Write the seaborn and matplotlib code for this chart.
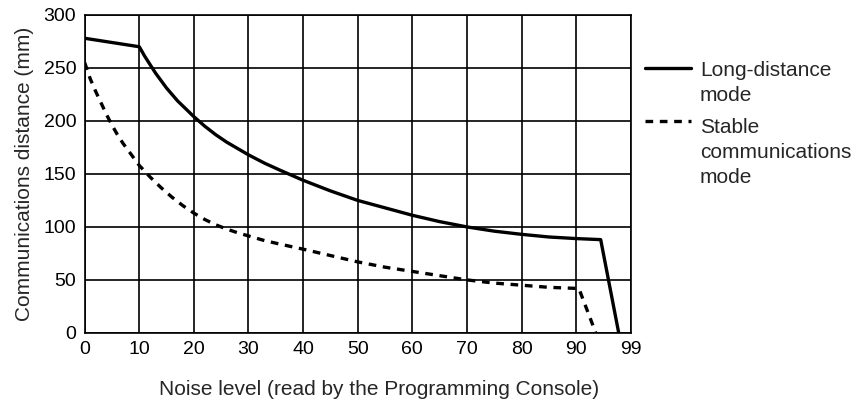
import matplotlib
matplotlib.use("Agg")
import matplotlib.pyplot as plt
import seaborn as sns
import pandas as pd
from matplotlib.lines import Line2D

# curvas
noise_long = [0, 10, 11, 12, 13, 14, 15, 16, 17, 18, 19, 20, 22, 24, 26, 28, 30, 33, 36, 40,
              45, 50, 55, 60, 65, 70, 75, 80, 85, 90, 94.5, 97.8]
dist_long = [278, 270, 261, 253, 245, 238, 231, 225, 219, 214, 209, 204, 195, 187, 180, 174,
             168, 160, 153, 144, 134, 125, 118, 111, 105, 100, 96, 93, 90.5, 89, 88, 0]

noise_stable = [0, 1, 2, 3, 4, 5, 6, 7, 8, 9, 10, 12, 14, 16, 18, 20, 22, 24, 26, 28, 30,
                33, 36, 40, 45, 50, 55, 60, 65, 70, 75, 80, 85, 90, 90.5, 93.6]
dist_stable = [255, 240, 228, 217, 206, 196, 187, 179, 172, 165, 158, 147, 137, 128, 120, 113,
               107, 102, 98, 94.5, 91.5, 87, 83.5, 79, 73, 67, 62, 58, 54, 50, 47, 45, 43, 42,
               42, 0]

x_ticks = [0, 10, 20, 30, 40, 50, 60, 70, 80, 90, 100]
x_labels = ["0", "10", "20", "30", "40", "50", "60", "70", "80", "90", "99"]
y_ticks = [0, 50, 100, 150, 200, 250, 300]

df_long = pd.DataFrame({"noise": noise_long, "dist": dist_long})
df_stable = pd.DataFrame({"noise": noise_stable, "dist": dist_stable})

sns.set_style("white")
plt.rcParams["font.family"] = ["Liberation Sans", "DejaVu Sans"]

fig = plt.figure(figsize=(8.64, 4.04), dpi=100)
ax = fig.add_axes([0.098, 0.176, 0.632, 0.787])

sns.lineplot(data=df_long, x="noise", y="dist", color="black", linewidth=2.4,
             sort=False, estimator=None, ax=ax)
sns.lineplot(data=df_stable, x="noise", y="dist", color="black", linewidth=2.4,
             sort=False, estimator=None, ax=ax)
ax.lines[-1].set_dashes([2.3, 2.0])

ax.set_xlim(0, 100)
ax.set_ylim(0, 300)
ax.set_xticks(x_ticks)
ax.set_xticklabels(x_labels)
ax.set_yticks(y_ticks)
ax.grid(True, color="black", linewidth=1.2)
ax.set_axisbelow(True)
for s in ax.spines.values():
    s.set_color("black")
    s.set_linewidth(1.2)
ax.tick_params(length=0, labelsize=14, pad=6, colors="black")

ax.set_xlabel("Noise level (read by the Programming Console)", fontsize=15, labelpad=16)
ax.xaxis.label.set_x(0.54)
ax.set_ylabel("Communications distance (mm)", fontsize=15, labelpad=7)

# leyenda manual a la derecha
fig.add_artist(Line2D([0.747, 0.800], [1 - 68 / 404] * 2, color="black", linewidth=2.4,
                      transform=fig.transFigure))
fig.add_artist(Line2D([0.747, 0.800], [1 - 121 / 404] * 2, color="black", linewidth=2.4,
                      dashes=[2.3, 2.0], transform=fig.transFigure))
fig.text(0.810, 1 - 61 / 404, "Long-distance\nmode", fontsize=15, va="top",
         ha="left", linespacing=1.4, transform=fig.transFigure)
fig.text(0.810, 1 - 118 / 404, "Stable\ncommunications\nmode", fontsize=15, va="top",
         ha="left", linespacing=1.4, transform=fig.transFigure)

fig.savefig("out.png", dpi=100)
